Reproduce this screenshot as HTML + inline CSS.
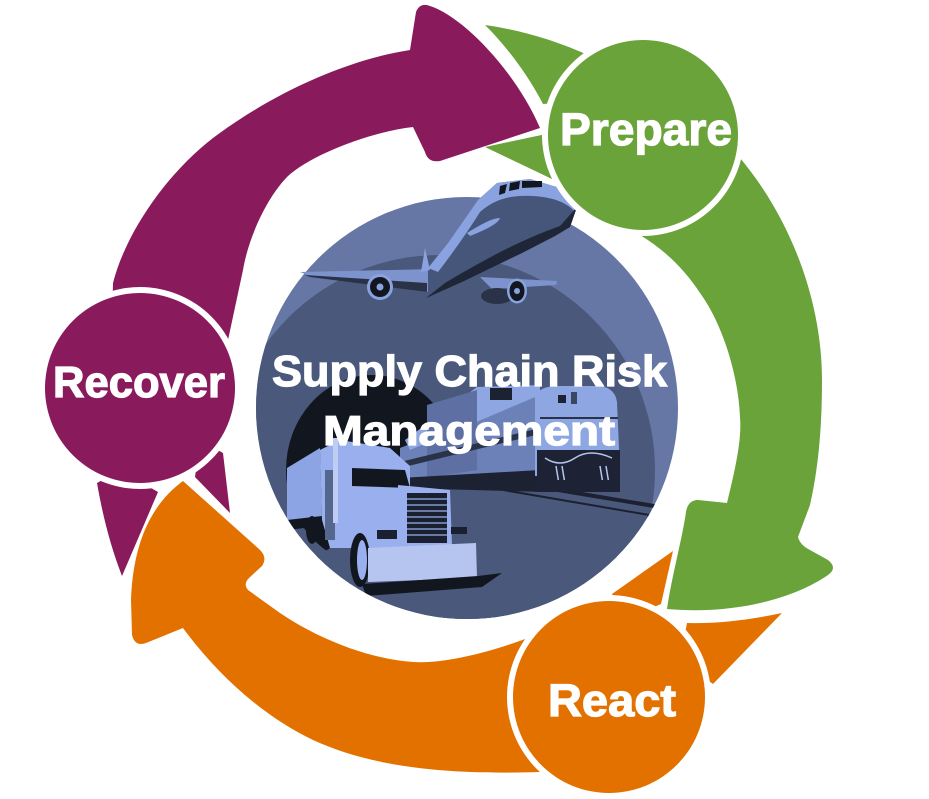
<!DOCTYPE html>
<html><head><meta charset="utf-8"><style>
html,body{margin:0;padding:0;background:#fff;}
svg{display:block;}
text{font-family:"Liberation Sans",Arial,sans-serif;font-weight:bold;fill:#fff;}
</style></head><body>
<svg width="929" height="799" viewBox="0 0 929 799" xmlns="http://www.w3.org/2000/svg">
<rect width="929" height="799" fill="#fff"/>

<!-- Green body -->
<path d="M 640 200 L 735 152 C 790 215 822 300 822 380 C 822 430 818 470 810 505 L 798 537 Q 800 545 810 550 L 828 560 Q 838 568 828 575 C 795 598 735 615 667 609 C 672 575 682 540 686 512 Q 688 500 698 500 L 727 503 C 735 470 742 440 740 417 C 738 370 720 320 700 293 C 685 270 665 250 640 235 Z" fill="#69a339"/>

<!-- Purple body -->
<path d="M 110 400 L 113 283 C 125 235 165 175 213 138 C 270 95 345 60 410 50 L 416 12 Q 420 2 430 6 C 462 16 515 70 540 128 L 440 161 Q 428 163 425 152 L 413 127 C 370 132 310 155 287 177 C 265 200 248 240 243 270 L 228 340 L 222 400 Z" fill="#891a5c"/>

<!-- Orange body -->
<path d="M 620 700 L 528 638 C 490 652 445 664 413 662 C 370 659 320 640 280 613 L 248 590 Q 243 584 249 578 L 262 566 Q 268 557 259 549 L 183 481 C 150 505 133 545 131 600 L 132 635 Q 135 647 146 643 L 183 628 C 215 672 262 716 313 740 C 372 767 445 775 540 772 L 610 760 Z" fill="#e37100"/>

<!-- Tail pieces -->
<path d="M 485 25 C 520 30 555 40 590 56 L 600 100 L 543 104 C 528 75 508 48 485 25 Z" fill="#69a339"/>
<path d="M 485 147 L 565 130 L 575 190 Z" fill="#69a339"/>
<path d="M 612 594 L 673 551 L 661 604 L 625 620 Z" fill="#e37100"/>
<path d="M 687 623 C 715 624 750 620 782 613 L 713 684 L 680 660 Z" fill="#e37100"/>
<path d="M 97 483 Q 106 535 122 576 L 158 492 L 120 470 Z" fill="#891a5c"/>
<path d="M 195 477 L 230 513 L 223 453 L 200 440 Z" fill="#891a5c"/>

<!-- Center image -->
<defs><clipPath id="cc"><circle cx="467" cy="408" r="211"/></clipPath></defs>
<g clip-path="url(#cc)">
  <rect x="250" y="190" width="440" height="440" fill="#6677a6"/>
  <circle cx="440" cy="470" r="215" fill="#4a587c"/>
  <ellipse cx="372" cy="470" rx="86" ry="95" fill="#12161f"/>
  <path d="M 450 470 L 700 520 L 700 640 L 250 640 L 250 600 Z" fill="#4a587c"/>
  <path d="M 450 472 L 690 512" stroke="#1b2130" stroke-width="4"/>
  <path d="M 445 480 L 690 522" stroke="#1b2130" stroke-width="2"/>
  <!-- train -->
  <polygon points="400,448 540,392 540,472 400,480" fill="#6d81b9"/>
  <polygon points="405,440 477,387 540,385 540,395 410,450" fill="#8ea6e2"/>
  <polygon points="427,405 477,390 477,470 427,478" fill="#5d6fa3"/>
  <polygon points="400,462 540,428 540,434 400,468" fill="#2a3247"/>
  <polygon points="400,478 540,470 545,492 400,488" fill="#1c2232"/>
  <rect x="490" y="388" width="22" height="12" fill="#1c2232"/>
  <path d="M 535 396 Q 540 386 558 386 L 600 386 Q 615 388 617 402 L 620 472 L 535 476 Z" fill="#8ea6e2"/>
  <rect x="537" y="450" width="83" height="30" fill="#1d2334"/>
  <path d="M 545 458 Q 560 468 575 458 T 612 458" stroke="#b6c5f0" stroke-width="1.5" fill="none"/>
  <rect x="558" y="395" width="8" height="8" fill="#1d2334"/>
  <rect x="571" y="392" width="6" height="12" fill="#3b4662"/>
  <path d="M 540 418 L 618 418" stroke="#2a3247" stroke-width="2"/>
  <path d="M 556 466 L 560 490 M 562 466 L 566 490 M 600 466 L 604 490 M 606 466 L 610 490" stroke="#b6c5f0" stroke-width="1.5"/>
  <rect x="535" y="480" width="85" height="12" fill="#1d2334"/>
  <!-- truck -->
  <polygon points="287,468 320,448 322,518 287,522" fill="#8ca4e3"/>
  <polygon points="287,520 322,516 322,526 287,530" fill="#12161f"/>
  <polygon points="320,450 340,440 390,448 410,466 410,548 330,548 322,520" fill="#9ab0ee"/>
  <rect x="325" y="470" width="10" height="70" fill="#56678f"/>
  <rect x="333" y="438" width="5" height="85" fill="#c0cdf3"/>
  <polygon points="352,468 405,470 410,488 352,486" fill="#12161f"/>
  <polygon points="398,485 450,490 452,545 398,547" fill="#9ab0ee"/>
  <rect x="407" y="493" width="40" height="50" fill="#1a2030"/>
  <g stroke="#9ab0ee" stroke-width="1.3">
    <path d="M 407 499 H 447 M 407 505 H 447 M 407 511 H 447 M 407 517 H 447 M 407 523 H 447 M 407 529 H 447 M 407 535 H 447"/>
  </g>
  <rect x="377" y="530" width="20" height="9" fill="#1a2030"/>
  <rect x="451" y="527" width="16" height="7" fill="#1a2030"/>
  <ellipse cx="360" cy="560" rx="10" ry="27" fill="#12161f"/>
  <ellipse cx="362" cy="560" rx="5" ry="20" fill="#9ab0ee"/>
  <ellipse cx="312" cy="530" rx="6" ry="14" fill="#12161f"/>
  <polygon points="368,548 476,543 477,578 368,582" fill="#b6c5f0"/>
  <polygon points="362,584 478,576 502,573 482,587 366,596" fill="#12161f"/>
</g>

<!-- Airplane -->
<polygon points="300,272 435,269 440,289 427,292 310,276" fill="#7d93cd"/>
<polygon points="305,275 427,283 427,292 310,277" fill="#2a3247"/>
<polygon points="480,277 557,281 556,285 492,289" fill="#7d93cd"/>
<ellipse cx="497" cy="296" rx="16" ry="8" fill="#2a3247"/>
<path d="M 428 268 L 448 243 L 478 200 L 497 183 L 530 179 L 560 188 L 577 207 L 570 227 L 555 236 L 522 253 L 462 282 L 428 298 Z" fill="#46557a"/>
<path d="M 497 183 L 530 179 L 560 188 L 577 207 L 575 212 C 565 200 545 195 520 196 C 500 197 488 205 480 212 C 470 228 455 250 438 272 L 428 268 L 448 243 L 478 200 Z" fill="#8aa2df"/>
<path d="M 577 207 L 570 227 L 555 236 L 522 253 L 462 282 L 426 298 L 445 283 C 480 262 520 240 560 226 Z" fill="#1f2638"/>
<path d="M 467 233 C 480 225 492 218 500 218 C 498 224 485 230 470 236 Z" fill="#8aa2df"/>
<polygon points="500,186 507,184 505,193 499,195" fill="#12161f"/>
<polygon points="510,183 520,181 519,189 509,191" fill="#12161f"/>
<polygon points="522,181 542,181 542,187 522,188" fill="#12161f"/>
<polygon points="425,248 430,270 421,272" fill="#8aa2df"/>
<circle cx="380" cy="287" r="13" fill="#8aa2df"/>
<circle cx="380" cy="287" r="10" fill="#12161f"/>
<circle cx="380" cy="287" r="3.5" fill="#8aa2df"/>
<ellipse cx="517" cy="291" rx="10" ry="12.5" fill="#8aa2df"/>
<ellipse cx="517" cy="291" rx="7.5" ry="10" fill="#12161f"/>
<circle cx="517" cy="291" r="3" fill="#8aa2df"/>

<!-- Center text -->
<text x="272" y="386" font-size="44" textLength="395" lengthAdjust="spacingAndGlyphs" stroke="#fff" stroke-width="1.2">Supply Chain Risk</text>
<text x="323" y="445" font-size="42" textLength="292" lengthAdjust="spacingAndGlyphs" stroke="#fff" stroke-width="1.2">Management</text>

<!-- Circles -->
<circle cx="643" cy="135" r="101" fill="#fff"/>
<circle cx="643" cy="135" r="95" fill="#69a339"/>
<circle cx="140" cy="388" r="101" fill="#fff"/>
<circle cx="140" cy="388" r="95" fill="#891a5c"/>
<circle cx="609" cy="697" r="102" fill="#fff"/>
<circle cx="609" cy="697" r="96" fill="#e37100"/>

<text x="560" y="145" font-size="45" textLength="172" lengthAdjust="spacingAndGlyphs" stroke="#fff" stroke-width="1.2">Prepare</text>
<text x="53" y="397" font-size="44" textLength="172" lengthAdjust="spacingAndGlyphs" stroke="#fff" stroke-width="1.2">Recover</text>
<text x="548" y="716" font-size="45" textLength="128" lengthAdjust="spacingAndGlyphs" stroke="#fff" stroke-width="1.2">React</text>
</svg>
</body></html>
